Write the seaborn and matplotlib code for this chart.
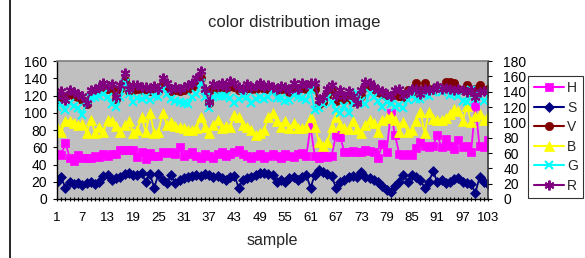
import numpy as np
import pandas as pd
import seaborn as sns
import matplotlib
matplotlib.use("Agg")
import matplotlib.pyplot as plt
from matplotlib.lines import Line2D

# --- dados (escala do eixo esquerdo) ---
sample = list(range(1, 104))

H = [52, 51, 65, 48, 44, 51, 47, 47, 48, 50,
     49, 52, 50, 52, 52, 57, 57, 57, 57, 49,
     55, 46, 53, 50, 50, 55, 53, 55, 52, 60,
     50, 52, 55, 50, 48, 52, 50, 48, 52, 55,
     50, 52, 55, 57, 52, 50, 48, 50, 52, 48,
     50, 52, 50, 48, 52, 50, 49, 52, 53, 50,
     84, 50, 48, 51, 49, 50, 74, 72, 55, 54,
     56, 55, 54, 57, 56, 55, 48, 64, 55, 100,
     74, 52, 51, 52, 51, 59, 66, 62, 60, 62,
     74, 60, 70, 62, 58, 68, 60, 62, 55, 108,
     61, 60, 68]

S = [20, 25, 13, 20, 17, 18, 16, 19, 20, 17,
     20, 27, 28, 22, 24, 25, 29, 30, 28, 28,
     30, 20, 29, 13, 29, 22, 18, 28, 18, 22,
     24, 25, 27, 28, 27, 29, 28, 25, 27, 24,
     22, 25, 27, 13, 22, 24, 26, 28, 30, 30,
     29, 28, 20, 22, 20, 24, 25, 22, 26, 28,
     13, 28, 34, 31, 29, 27, 13, 20, 22, 25,
     27, 25, 31, 25, 24, 22, 20, 15, 10, 8,
     15, 20, 28, 20, 28, 25, 22, 13, 20, 32,
     20, 22, 18, 20, 23, 24, 20, 18, 17, 7,
     25, 20, 17]

V = [116, 120, 118, 122, 120, 118, 115, 110, 121, 124,
     126, 128, 127, 128, 116, 128, 138, 125, 126, 128,
     126, 127, 125, 126, 125, 133, 130, 125, 126, 125,
     126, 128, 130, 133, 140, 124, 111, 128, 128, 130,
     127, 131, 130, 126, 125, 129, 127, 128, 130, 127,
     128, 127, 125, 128, 127, 124, 130, 126, 129, 128,
     129, 128, 110, 113, 120, 125, 114, 118, 115, 118,
     112, 113, 120, 130, 131, 128, 124, 122, 120, 119,
     122, 120, 118, 126, 124, 134, 126, 134, 128, 126,
     130, 128, 136, 136, 134, 128, 126, 132, 124, 128,
     132, 126, 128]

B = [84, 78, 90, 91, 88, 86, 87, 76, 92, 77,
     84, 78, 92, 90, 85, 78, 86, 90, 77, 80,
     95, 78, 100, 77, 78, 100, 86, 89, 85, 83,
     82, 80, 80, 82, 95, 84, 76, 86, 92, 82,
     85, 84, 97, 95, 86, 84, 80, 74, 77, 80,
     95, 100, 90, 84, 90, 82, 88, 82, 82, 84,
     95, 84, 66, 61, 66, 84, 95, 86, 82, 81,
     90, 81, 77, 86, 92, 88, 78, 92, 94, 96,
     92, 78, 89, 78, 80, 90, 101, 76, 101, 93,
     92, 92, 94, 98, 104, 102, 90, 108, 89, 96,
     98, 92, 96]

G = [107, 110, 103, 111, 108, 106, 97, 115, 117, 118,
     120, 122, 118, 110, 107, 118, 134, 122, 113, 117,
     116, 118, 115, 120, 118, 128, 122, 116, 114, 112,
     111, 110, 118, 122, 134, 118, 105, 118, 120, 120,
     120, 117, 111, 116, 119, 118, 111, 116, 118, 116,
     118, 126, 117, 117, 114, 115, 121, 118, 117, 115,
     126, 103, 106, 110, 117, 113, 103, 100, 108, 100,
     111, 123, 114, 110, 123, 118, 114, 107, 113, 110,
     107, 109, 105, 115, 120, 116, 116, 121, 120, 124,
     126, 124, 126, 121, 122, 120, 114, 112, 126, 116,
     120, 114, 118]

R = [120, 125, 115, 126, 124, 122, 120, 111, 126, 128,
     130, 134, 131, 133, 118, 132, 146, 128, 132, 132,
     130, 130, 129, 131, 128, 140, 134, 128, 130, 128,
     130, 132, 135, 140, 148, 128, 113, 133, 131, 134,
     130, 137, 135, 130, 128, 133, 130, 131, 134, 130,
     132, 130, 128, 131, 130, 126, 134, 128, 134, 132,
     134, 134, 115, 118, 128, 132, 120, 126, 120, 125,
     120, 111, 126, 136, 135, 130, 126, 125, 122, 120,
     126, 127, 121, 124, 127, 128, 122, 127, 126, 127,
     131, 128, 129, 127, 126, 128, 126, 124, 126, 118,
     124, 125, 124]

x_labels = list(range(1, 104, 6))
left_ticks = list(range(0, 161, 20))
right_ticks = list(range(0, 181, 20))

series = {"H": H, "S": S, "V": V, "B": B, "G": G, "R": R}
estilos = {
    "H": dict(color="#FF00FF", marker="s", ms=5.5),
    "S": dict(color="#000080", marker="D", ms=5),
    "V": dict(color="#800000", marker="o", ms=6),
    "B": dict(color="#FFFF00", marker="^", ms=6.5),
    "G": dict(color="#00FFFF", marker="x", ms=6, mew=1.5),
    "R": dict(color="#800080", marker=(6, 2, 0), ms=7, mew=1.5),
}

df = pd.DataFrame({"sample": sample, **series})

sns.set_theme(style="white")
plt.rcParams["font.family"] = ["Liberation Sans", "DejaVu Sans"]

fig = plt.figure(figsize=(5.85, 2.58), dpi=100)
ax = fig.add_axes([57 / 585, 1 - 199 / 258, (488 - 57) / 585, (199 - 61) / 258])
ax.set_facecolor("#C0C0C0")

for nome, vals in series.items():
    st = estilos[nome]
    sns.lineplot(data=df, x="sample", y=nome, ax=ax, color=st["color"],
                 marker=st["marker"], markersize=st["ms"],
                 markeredgecolor=st["color"], markerfacecolor=st["color"],
                 markeredgewidth=st.get("mew", 0.5), linewidth=1.3,
                 label=nome, legend=False)

ax.set_xlim(1, 103)
ax.set_ylim(0, 160)
ax.set_xticks(x_labels)
ax.set_xticks(sample, minor=True)
ax.set_yticks(left_ticks)
ax.tick_params(axis="x", which="both", direction="inout", length=3, width=0.8,
               colors="black", labelsize=9.5, pad=8, bottom=True)
ax.tick_params(axis="y", direction="out", length=3, width=0.8, colors="black",
               labelsize=10, pad=4, left=True)
ax.set_xlabel("sample", fontsize=11.5, labelpad=6)
ax.set_ylabel("")
for lado in ["left", "bottom"]:
    ax.spines[lado].set_color("black")
    ax.spines[lado].set_linewidth(1.0)
ax.spines["top"].set_color("#808080")
ax.spines["right"].set_color("#404040")

ax2 = ax.twinx()
ax2.set_ylim(0, 180)
ax2.set_yticks(right_ticks)
ax2.tick_params(axis="y", direction="out", length=3, width=0.8, colors="black",
                labelsize=10, pad=8, right=True)
for sp in ax2.spines.values():
    sp.set_visible(False)

fig.suptitle("color distribution image", x=0.503, y=1 - 22 / 258, va="center",
             fontsize=12)

handles = [Line2D([], [], color=estilos[n]["color"], marker=estilos[n]["marker"],
                  ms=estilos[n]["ms"], mec=estilos[n]["color"],
                  mfc=estilos[n]["color"], mew=estilos[n].get("mew", 0.5),
                  lw=1.5) for n in series]
leg = fig.legend(handles, list(series.keys()), loc="center left",
                 bbox_to_anchor=(528 / 585, 1 - 137 / 258), frameon=True,
                 fancybox=False, edgecolor="black", fontsize=10,
                 handlelength=2.2, handletextpad=0.2, labelspacing=0.4,
                 borderpad=0.4, borderaxespad=0)
leg.get_frame().set_linewidth(0.8)

# borda externa à esquerda
fig.add_artist(Line2D([10 / 585, 10 / 585], [0, 1], color="black", lw=1.2,
                      transform=fig.transFigure))

fig.savefig("out.png", dpi=100)
